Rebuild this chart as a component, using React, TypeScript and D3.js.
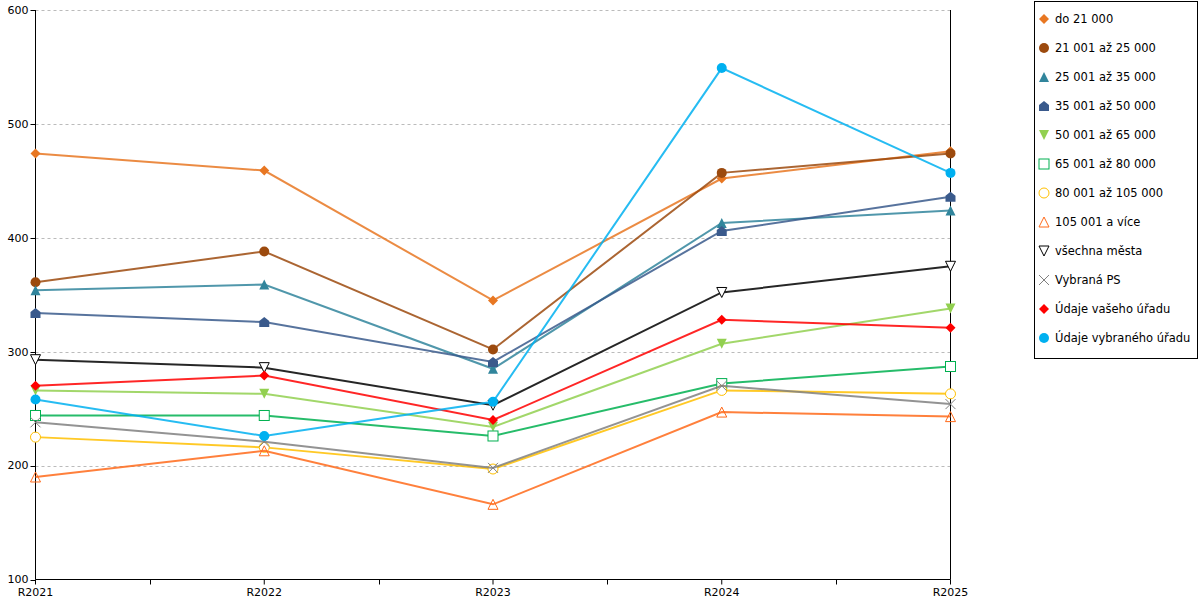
import React from "react";
import * as d3 from "d3";

const categories = ["R2021", "R2022", "R2023", "R2024", "R2025"];
const seriesNames = ["do 21 000", "21 001 až 25 000", "25 001 až 35 000", "35 001 až 50 000", "50 001 až 65 000", "65 001 až 80 000", "80 001 až 105 000", "105 001 a více", "všechna města", "Vybraná PS", "Údaje vašeho úřadu", "Údaje vybraného úřadu"];
const s1 = [474, 459, 345, 452, 476];
const s2 = [361, 388, 302, 457, 474];
const s3 = [354, 359, 285, 413, 424];
const s4 = [334, 326, 291, 406, 436];
const s5 = [266, 263, 234, 307, 338];
const s6 = [244, 244, 226, 272, 287];
const s7 = [225, 216, 197, 266, 263];
const s8 = [190, 213, 166, 247, 243];
const s9 = [293, 286, 253, 352, 375];
const s10 = [238, 221, 198, 270, 254];
const s11 = [270, 279, 240, 328, 321];
const s12 = [258, 226, 256, 549, 457];
const allValues = [s1, s2, s3, s4, s5, s6, s7, s8, s9, s10, s11, s12];
const colors = ["#E87722", "#9C4A0E", "#31859C", "#3A5A8C", "#92D050", "#00B050", "#FFC000", "#FF6A1A", "#000000", "#808080", "#FF0000", "#00B0F0"];
const markers = ["diamond", "circle", "triangle", "pentagon", "tridown", "square", "ocircle", "otri", "otridown", "cross", "diamond", "circle"];
const yTicks = [100, 200, 300, 400, 500, 600];

function Marker({ type, x, y, c }: { type: string; x: number; y: number; c: string }) {
  const r = 5;
  switch (type) {
    case "diamond":
      return <path d={`M${x},${y - r}L${x + r},${y}L${x},${y + r}L${x - r},${y}Z`} fill={c} />;
    case "circle":
      return <circle cx={x} cy={y} r={r} fill={c} />;
    case "ocircle":
      return <circle cx={x} cy={y} r={r} fill="white" stroke={c} />;
    case "triangle":
      return <path d={`M${x},${y - r}L${x + r},${y + r}L${x - r},${y + r}Z`} fill={c} />;
    case "otri":
      return <path d={`M${x},${y - r}L${x + r},${y + r}L${x - r},${y + r}Z`} fill="none" stroke={c} />;
    case "tridown":
      return <path d={`M${x - r},${y - r}L${x + r},${y - r}L${x},${y + r}Z`} fill={c} />;
    case "otridown":
      return <path d={`M${x - r},${y - r}L${x + r},${y - r}L${x},${y + r}Z`} fill="white" stroke={c} />;
    case "pentagon":
      return <path d={`M${x},${y - r}L${x + r},${y - 1}L${x + r},${y + r}L${x - r},${y + r}L${x - r},${y - 1}Z`} fill={c} />;
    case "square":
      return <rect x={x - r} y={y - r} width={2 * r} height={2 * r} fill="white" stroke={c} />;
    case "cross":
      return <path d={`M${x - r},${y - r}L${x + r},${y + r}M${x + r},${y - r}L${x - r},${y + r}`} stroke={c} />;
  }
  return null;
}

export default function App() {
  const x0 = 35.5, x1 = 950.5, yTop = 10, yBot = 579.5;
  const x = d3.scalePoint<string>().domain(categories).range([x0, x1]);
  const y = d3.scaleLinear().domain([100, 600]).range([yBot, yTop]);
  const line = d3.line<number>().x((_, i) => x(categories[i])!).y((v) => y(v));
  const step = x.step();
  const font = "DejaVu Sans, Verdana, sans-serif";
  return (
    <svg width={1200} height={600} style={{ position: "absolute", left: 0, top: 0 }} fontFamily={font}>
      <rect width={1200} height={600} fill="white" />
      {yTicks.map((t) => (
        <g key={t}>
          {t > 100 && <line x1={x0} x2={x1} y1={Math.round(y(t)) + 0.5} y2={Math.round(y(t)) + 0.5} stroke="#bbb" strokeDasharray="3,3" />}
          <line x1={x0 - 5} x2={x0} y1={Math.round(y(t)) + 0.5} y2={Math.round(y(t)) + 0.5} stroke="black" />
          <text x={x0 - 7} y={y(t)} dy="0.35em" fontSize={11} textAnchor="end">{t}</text>
        </g>
      ))}
      <line x1={x0} x2={x0} y1={yTop} y2={yBot} stroke="black" />
      <line x1={x1} x2={x1} y1={yTop} y2={yBot} stroke="black" />
      <line x1={x0} x2={x1} y1={yBot} y2={yBot} stroke="black" />
      {categories.map((c, i) => (
        <g key={c}>
          <line x1={x(c)} x2={x(c)} y1={yBot} y2={yBot + 5} stroke="black" />
          {i < categories.length - 1 && <line x1={Math.round(x(c)! + step / 2) + 0.5} x2={Math.round(x(c)! + step / 2) + 0.5} y1={yBot} y2={yBot + 5} stroke="black" />}
          <text x={x(c)} y={yBot + 16} fontSize={11} textAnchor="middle">{c}</text>
        </g>
      ))}
      {allValues.map((vals, si) => (
        <g key={si}>
          <path d={line(vals)!} fill="none" stroke={colors[si]} strokeWidth={2} strokeOpacity={0.85} />
          {vals.map((v, i) => (
            <Marker key={i} type={markers[si]} x={x(categories[i])!} y={y(v)} c={colors[si]} />
          ))}
        </g>
      ))}
      <rect x={1034.5} y={1.5} width={163} height={357} fill="white" stroke="black" />
      {seriesNames.map((n, i) => (
        <g key={n}>
          <Marker type={markers[i]} x={1044} y={19 + i * 29} c={colors[i]} />
          <text x={1055} y={19 + i * 29} dy="0.35em" fontSize={11.5}>{n}</text>
        </g>
      ))}
    </svg>
  );
}
